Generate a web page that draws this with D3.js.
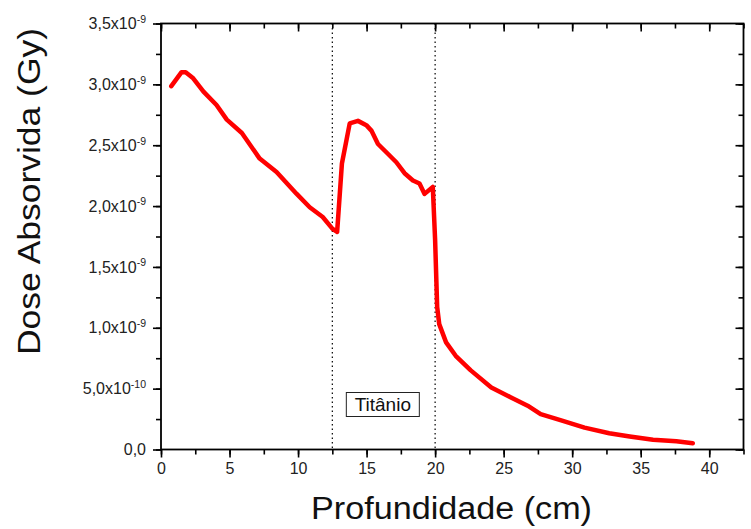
<!DOCTYPE html>
<html>
<head>
<meta charset="utf-8">
<script src="https://cdn.jsdelivr.net/npm/d3@7"></script>
<style>
body { margin:0; background:#fff; }
svg { font-family: "Liberation Sans", Arial, sans-serif; }
</style>
</head>
<body>
<svg width="751" height="529"></svg>
<script>
// profundidade (cm)
var depth = [0.75, 1.5, 1.8, 2.35, 3.1, 4.05, 4.8, 5.9, 7.2, 8.43, 9.9, 10.85, 11.8, 12.5, 12.85,
  13.2, 13.77, 14.37, 14.98, 15.35, 15.83, 16.55, 17.17, 17.77, 18.38, 18.86, 19.23, 19.83,
  20.0, 20.15, 20.3, 20.8, 21.5, 22.6, 24.1, 25.5, 26.75, 27.7, 29.2, 30.9, 32.7, 34.2, 35.9, 37.6, 38.8];
// dose absorvida (x10^-9 Gy)
var dose = [2.985, 3.10, 3.10, 3.05, 2.94, 2.83, 2.71, 2.60, 2.39, 2.28, 2.10, 1.99, 1.91, 1.815, 1.787,
  2.35, 2.68, 2.70, 2.665, 2.62, 2.51, 2.43, 2.36, 2.27, 2.21, 2.185, 2.10, 2.157,
  1.72, 1.17, 1.03, 0.88, 0.77, 0.65, 0.51, 0.43, 0.36, 0.29, 0.24, 0.18, 0.134, 0.107, 0.08, 0.068, 0.052];
var markers = [12.5, 20];
var xTicks = [0, 5, 10, 15, 20, 25, 30, 35, 40];
var yTicks = [0, 0.5, 1.0, 1.5, 2.0, 2.5, 3.0, 3.5];
var yTickLabels = [["0,0", ""], ["5,0x10", "-10"], ["1,0x10", "-9"], ["1,5x10", "-9"],
  ["2,0x10", "-9"], ["2,5x10", "-9"], ["3,0x10", "-9"], ["3,5x10", "-9"]];

var svg = d3.select("svg");
var padding = {top:23.5, right:7.5, left:161, bottom:79.5};
var charArea = {
    "width": 751 - padding.left - padding.right,
    "height": 529 - padding.top - padding.bottom
};

var xScale = d3.scaleLinear().domain([0, 42.5]).range([0, charArea.width]);
var yScale = d3.scaleLinear().domain([0, 3.5]).range([charArea.height, 0]);

var g = svg.append("g")
    .attr("transform", "translate(" + padding.left + "," + padding.top + ")");

// minor ticks
var xMinor = d3.range(0, 42.6, 2.5);
var yMinor = d3.range(0, 3.51, 0.25);

function styleAxis(a) {
    a.select(".domain").remove();
    a.selectAll("line").attr("stroke", "#000").attr("stroke-width", 1.6);
}

g.append("g").attr("transform", "translate(0," + charArea.height + ")")
    .call(d3.axisBottom(xScale).tickValues(xMinor).tickSize(5).tickFormat(""))
    .call(styleAxis);
g.append("g").call(d3.axisTop(xScale).tickValues(xMinor).tickSize(-5).tickFormat(""))
    .call(styleAxis);
g.append("g").call(d3.axisLeft(yScale).tickValues(yMinor).tickSize(5).tickFormat(""))
    .call(styleAxis);
g.append("g").attr("transform", "translate(" + charArea.width + ",0)")
    .call(d3.axisRight(yScale).tickValues(yMinor).tickSize(-5).tickFormat(""))
    .call(styleAxis);

// major ticks
var xAxis = g.append("g").attr("transform", "translate(0," + charArea.height + ")")
    .call(d3.axisBottom(xScale).tickValues(xTicks).tickSize(8).tickPadding(5));
xAxis.call(styleAxis);
xAxis.selectAll("text").attr("font-size", 16).attr("fill", "#222").attr("font-family", "Liberation Sans, Arial");

g.append("g").call(d3.axisTop(xScale).tickValues(xTicks).tickSize(-8).tickFormat(""))
    .call(styleAxis);
g.append("g").attr("transform", "translate(" + charArea.width + ",0)")
    .call(d3.axisRight(yScale).tickValues(yTicks).tickSize(-8).tickFormat(""))
    .call(styleAxis);

var yAxis = g.append("g")
    .call(d3.axisLeft(yScale).tickValues(yTicks).tickSize(8).tickPadding(4).tickFormat(""));
yAxis.call(styleAxis);
yAxis.selectAll(".tick").append("text")
    .attr("x", -15)
    .attr("dy", "0.32em")
    .attr("text-anchor", "end")
    .attr("font-size", 16)
    .attr("fill", "#222")
    .each(function(d, i) {
        var t = d3.select(this);
        var lab = yTickLabels[yTicks.indexOf(d)];
        t.append("tspan").text(lab[0]);
        if (lab[1]) t.append("tspan").attr("font-size", 10.5).attr("dy", "-0.6em").text(lab[1]);
    });

// frame
g.append("rect")
    .attr("width", charArea.width).attr("height", charArea.height)
    .attr("fill", "none").attr("stroke", "#000").attr("stroke-width", 1.8);

// dotted region lines
g.selectAll(".marker").data(markers).enter().append("line")
    .attr("x1", function(d) { return xScale(d); })
    .attr("x2", function(d) { return xScale(d); })
    .attr("y1", 0).attr("y2", charArea.height)
    .attr("stroke", "#000").attr("stroke-width", 1.2)
    .attr("stroke-dasharray", "1.5,3");

// Titanio label
var lx = xScale(12.5) + 14, ly = 369;
g.append("rect").attr("x", lx).attr("y", ly).attr("width", 73).attr("height", 24)
    .attr("fill", "#fff").attr("stroke", "#222").attr("stroke-width", 1);
g.append("text").attr("x", lx + 36.5).attr("y", ly + 18.5).attr("text-anchor", "middle")
    .attr("font-size", 19).attr("fill", "#111").text("Titânio");

// curve
var pts = depth.map(function(d, i) { return [d, dose[i]]; });
g.append("path").datum(pts)
    .attr("fill", "none").attr("stroke", "#ff0000").attr("stroke-width", 4.5)
    .attr("stroke-linejoin", "round").attr("stroke-linecap", "round")
    .attr("d", d3.line().x(function(d) { return xScale(d[0]); }).y(function(d) { return yScale(d[1]); }));

// axis titles
svg.append("text")
    .attr("x", 451.5)
    .attr("y", 519)
    .attr("text-anchor", "middle")
    .attr("font-size", 31)
    .attr("fill", "#111")
    .attr("textLength", 281)
    .attr("lengthAdjust", "spacingAndGlyphs")
    .text("Profundidade (cm)");

svg.append("text")
    .attr("transform", "translate(40,191.5) rotate(-90)")
    .attr("text-anchor", "middle")
    .attr("font-size", 31)
    .attr("fill", "#111")
    .attr("textLength", 327)
    .attr("lengthAdjust", "spacingAndGlyphs")
    .text("Dose Absorvida (Gy)");
</script>
</body>
</html>
